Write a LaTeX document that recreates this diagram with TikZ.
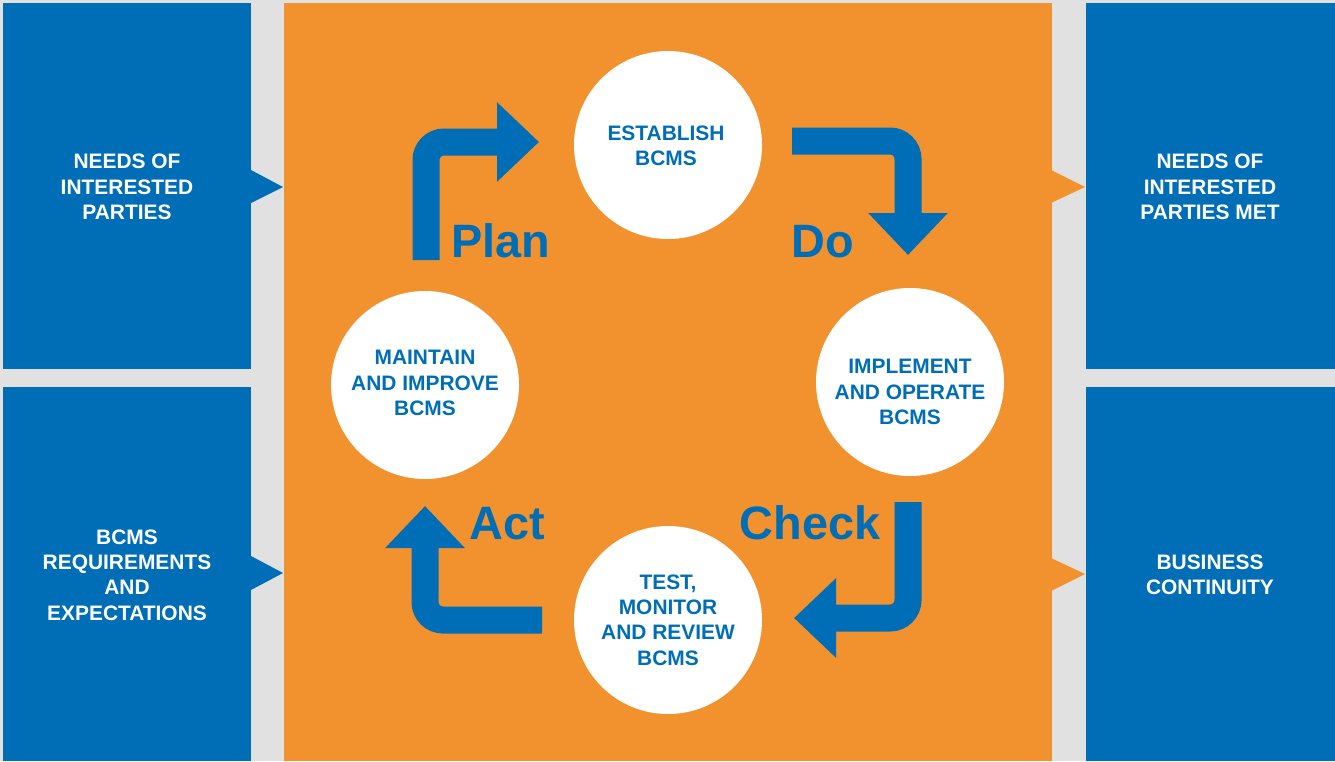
\documentclass[tikz,border=0pt]{standalone}
\usepackage{fontspec}
\setmainfont{Liberation Sans}
\usetikzlibrary{arrows.meta}
\definecolor{bblue}{RGB}{0,110,182}
\definecolor{borange}{RGB}{242,146,46}
\definecolor{bgray}{RGB}{225,225,225}
\tikzset{
  sidebox/.style={fill=bblue, draw=none},
  sidetext/.style={text=white, font=\fontsize{21}{25.5}\selectfont\bfseries, align=center},
  circ/.style={circle, fill=white, draw=none, minimum size=188bp, inner sep=0pt},
  ctext/.style={text=bblue, font=\fontsize{21}{25.5}\selectfont\bfseries, align=center},
  biglabel/.style={text=bblue, font=\fontsize{47}{50}\selectfont\bfseries, anchor=base, inner sep=0pt},
  cyc/.style={draw=bblue, line width=27bp, rounded corners=18bp, line cap=butt,
    -{Triangle[length=42bp,width=77bp]}},
}
\begin{document}
\begin{tikzpicture}[x=1bp,y=-1bp]
\useasboundingbox (0,0) rectangle (1335,761);
\fill[bgray] (0,0) rectangle (1335,761);
% orange panel
\fill[borange] (284,3) rectangle (1052,761);
% left boxes
\fill[sidebox] (3,3) rectangle (251,369);
\fill[sidebox] (3,387) rectangle (251,761);
\fill[bblue] (251,170) -- (283,187) -- (251,203) -- cycle;
\fill[bblue] (251,556) -- (283,573) -- (251,590) -- cycle;
% right boxes
\fill[sidebox] (1086,3) rectangle (1335,369);
\fill[sidebox] (1086,387) rectangle (1335,761);
\fill[borange] (1051,170) -- (1085,187) -- (1051,203) -- cycle;
\fill[borange] (1051,558) -- (1085,574) -- (1051,591) -- cycle;
% side texts
\node[sidetext] (lt) at (127,187) {NEEDS OF\\INTERESTED\\PARTIES};
\node[sidetext] (lb) at (127,575) {BCMS\\REQUIREMENTS\\AND\\EXPECTATIONS};
\node[sidetext] (rt) at (1210,187) {NEEDS OF\\INTERESTED\\PARTIES MET};
\node[sidetext] (rb) at (1210,575) {BUSINESS\\CONTINUITY};
% circles
\node[circ] (est) at (668,145) {};
\node[circ] (imp) at (910,382) {};
\node[circ] (tst) at (668,620) {};
\node[circ] (mnt) at (425,385) {};
\node[ctext] (estt) at (666,146) {ESTABLISH\\BCMS};
\node[ctext] (impt) at (910,392) {IMPLEMENT\\AND OPERATE\\BCMS};
\node[ctext] (tstt) at (668,620) {TEST,\\MONITOR\\AND REVIEW\\BCMS};
\node[ctext] (mntt) at (425,383) {MAINTAIN\\AND IMPROVE\\BCMS};
% arrows
\coordinate (p0) at (426,260);
\coordinate (p1) at (539,142);
\coordinate (d0) at (792,141);
\coordinate (d1) at (908,255);
\coordinate (c0) at (908,502);
\coordinate (c1) at (794,618);
\coordinate (a0) at (542,620);
\coordinate (a1) at (425,506);
\draw[cyc] (p0) |- (p1);
\draw[cyc] (d0) -| (d1);
\draw[cyc] (c0) |- (c1);
\draw[cyc] (a0) -| (a1);
% labels
\node[biglabel] (plan) at (501,257) {Plan};
\node[biglabel] (do) at (823,257) {Do};
\node[biglabel] (check) at (810,539) {Check};
\node[biglabel] (act) at (507,539) {Act};
\end{tikzpicture}
\end{document}
